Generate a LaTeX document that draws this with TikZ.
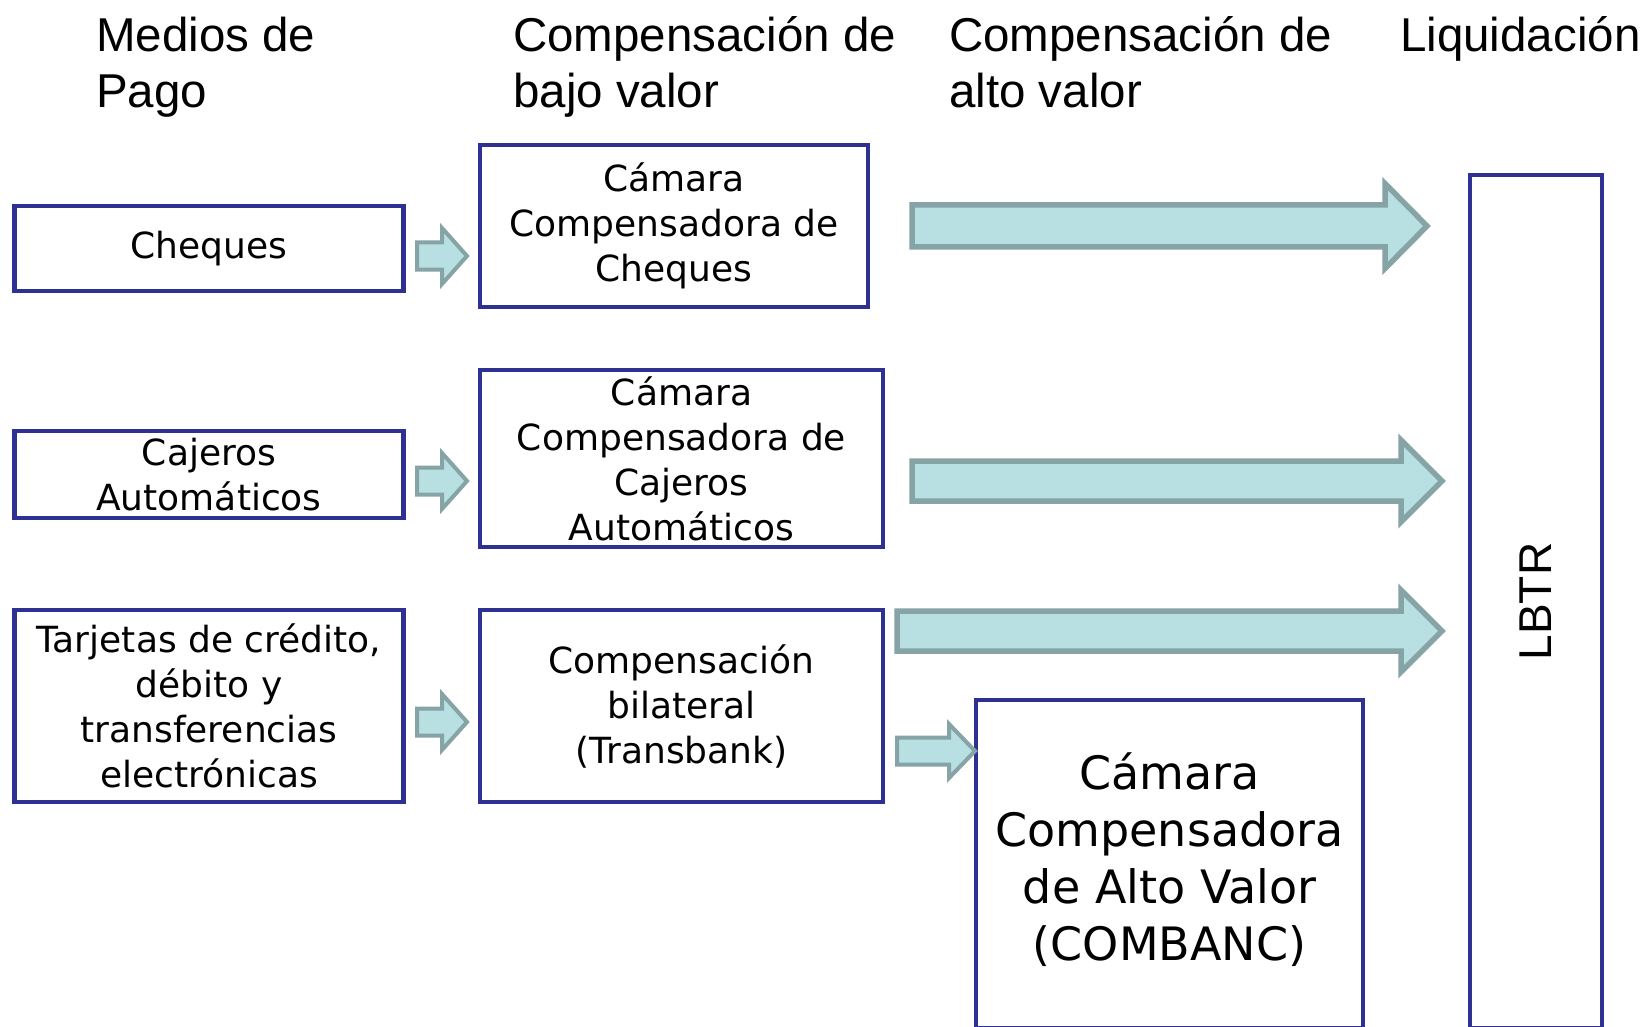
\documentclass[tikz,border=0pt]{standalone}
\usepackage{fontspec}
\setmainfont{Liberation Sans}
\newfontfamily\boxfont{DejaVu Sans}
\usetikzlibrary{calc}
\definecolor{boxblue}{RGB}{46,49,146}
\definecolor{arrfill}{RGB}{184,224,226}
\definecolor{arrline}{RGB}{134,163,165}
\newcommand\blockarrow[6]{% style, tail, tip, shaft half, head half, head length
  \draw[#1] let \p1=(#2), \p2=(#3) in
    (\x1,\y1+#4pt) -- (\x2-#6pt,\y1+#4pt) -- (\x2-#6pt,\y1+#5pt) -- (\x2,\y1)
    -- (\x2-#6pt,\y1-#5pt) -- (\x2-#6pt,\y1-#4pt) -- (\x1,\y1-#4pt) -- cycle;}
\tikzset{
  hdr/.style={anchor=base west, inner sep=0pt, font=\fontsize{47.5}{56}\selectfont, align=left},
  box/.style={draw=boxblue, line width=4.5pt, rectangle, inner sep=0pt,
    font=\boxfont\fontsize{36}{45}\selectfont, align=center},
  smallarr/.style={draw=arrline, fill=arrfill, line width=4pt, line join=miter},
  bigarr/.style={draw=arrline, fill=arrfill, line width=5.5pt, line join=miter}
}
\begin{document}
\begin{tikzpicture}[x=1pt, y=-1pt]
\useasboundingbox (0,0) rectangle (1644,1027);
\clip (0,0) rectangle (1644,1027);
% headers (base anchor = baseline of last line)
\node[hdr] (h1) at (96,108) {Medios de\\Pago};
\node[hdr] (h2) at (513,108) {Compensación de\\bajo valor};
\node[hdr] (h3) at (949,108) {Compensación de\\alto valor};
\node[hdr] (h4) at (1400,52) {Liquidación};
% boxes
\node[box, minimum width=389pt, minimum height=85pt] (cheq) at (209,248.5) {Cheques};
\node[box, minimum width=389pt, minimum height=87pt] (caj) at (209,474.5) {Cajeros\\Automáticos};
\node[box, minimum width=389pt, minimum height=192pt] (tarj) at (209,706) {Tarjetas de crédito,\\débito y\\transferencias\\electrónicas};
\node[box, minimum width=388pt, minimum height=162pt] (ccheq) at (674,226) {Cámara\\Compensadora de\\Cheques};
\node[box, minimum width=403pt, minimum height=177pt] (ccaj) at (681.5,458.5) {Cámara\\Compensadora de\\Cajeros\\Automáticos};
\node[box, minimum width=403pt, minimum height=192pt] (bilat) at (681.5,706) {Compensación\\bilateral\\(Transbank)};
\node[box, minimum width=387pt, minimum height=328pt, font=\boxfont\fontsize{46}{56.5}\selectfont] (combanc) at (1169.5,864) {\raisebox{4pt}{\begin{tabular}{@{}c@{}}Cámara\\[0.5pt]Compensadora\\[0.5pt]de Alto Valor\\[0.5pt](COMBANC)\end{tabular}}};
\node[box, rotate=90, minimum width=853pt, minimum height=132pt, font=\fontsize{46}{56}\selectfont] (lbtr) at (1536,601.5) {LBTR};
% arrow end points
\coordinate (s1) at (417,256);  \coordinate (t1) at (467,256);
\coordinate (s2) at (417,481);  \coordinate (t2) at (467,481);
\coordinate (s3) at (417,722);  \coordinate (t3) at (467,722);
\coordinate (s4) at (897,751);  \coordinate (t4) at (975,751);
\coordinate (b1s) at (912,226); \coordinate (b1t) at (1427,226);
\coordinate (b2s) at (912,481); \coordinate (b2t) at (1442,481);
\coordinate (b3s) at (897,631); \coordinate (b3t) at (1442,631);
\blockarrow{smallarr}{s1}{t1}{13.5}{28}{25}
\blockarrow{smallarr}{s2}{t2}{13.5}{28}{25}
\blockarrow{smallarr}{s3}{t3}{13.5}{28}{25}
\blockarrow{smallarr}{s4}{t4}{13.5}{27}{26}
\blockarrow{bigarr}{b1s}{b1t}{21}{42.5}{42}
\blockarrow{bigarr}{b2s}{b2t}{20}{41}{41}
\blockarrow{bigarr}{b3s}{b3t}{20}{41}{41}
\end{tikzpicture}
\end{document}
